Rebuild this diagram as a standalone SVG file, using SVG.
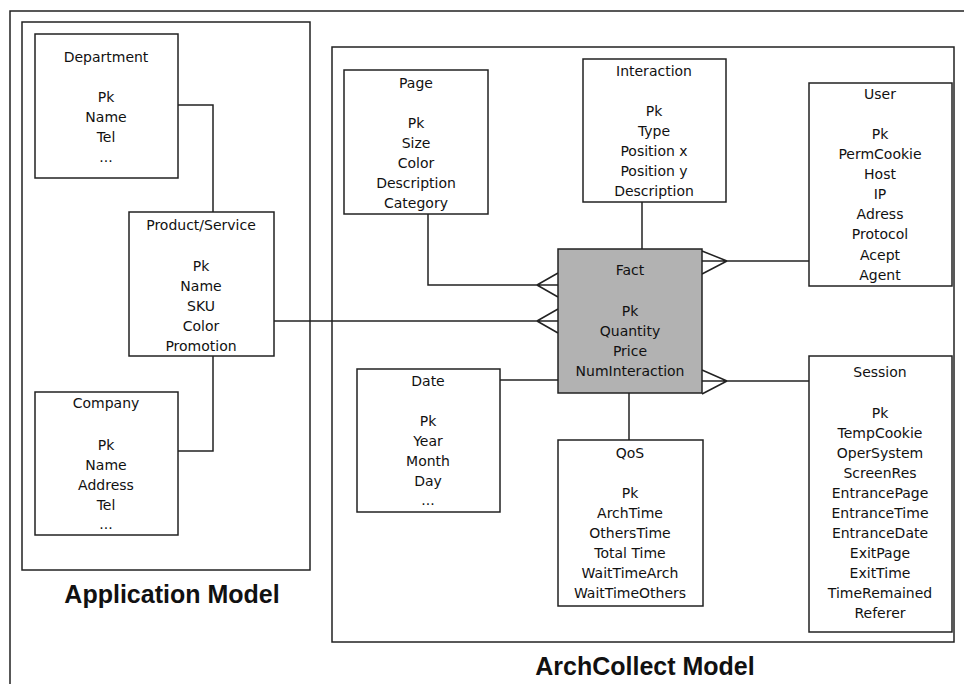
<svg xmlns="http://www.w3.org/2000/svg" width="964" height="684" viewBox="0 0 964 684">
<style>
.box{fill:#fff;stroke:#222;stroke-width:1.5}
.fact{fill:#b2b2b2;stroke:#222;stroke-width:1.5}
.frame{fill:none;stroke:#222;stroke-width:1.5}
.t{font-family:"DejaVu Sans",sans-serif;font-size:14px;fill:#111;text-anchor:middle}
.big{font-family:"Liberation Sans",Arial,sans-serif;font-size:25px;font-weight:bold;fill:#111;text-anchor:middle}
.c{fill:none;stroke:#222;stroke-width:1.5}
</style>
<rect width="964" height="684" fill="#fff"/>
<g id="outer-frame">
<path class="frame" d="M10,684 V11 H964"/>
</g>
<g id="application-model">
<rect class="frame" x="22" y="22" width="288" height="548"/>
<text class="big" x="172" y="603">Application Model</text>
</g>
<g id="archcollect-model">
<rect class="frame" x="332" y="47" width="622" height="595"/>
<text class="big" x="645" y="675">ArchCollect Model</text>
</g>
<g id="connectors">
<path class="c" d="M178,105 H213 V212"/>
<path class="c" d="M213,356 V451 H178"/>
<path class="c" d="M274,321 H537"/>
<path class="c" d="M428,214 V285 H537"/>
<path class="c" d="M537,285 L558,273 M537,285 L558,297 M537,285 H558"/>
<path class="c" d="M537,321 L558,309 M537,321 L558,333 M537,321 H558"/>
<path class="c" d="M642,202 V249"/>
<path class="c" d="M727,261 H809"/>
<path class="c" d="M727,261 L702,251 M727,261 L702,274 M727,261 H702"/>
<path class="c" d="M727,381 H809"/>
<path class="c" d="M727,381 L702,370 M727,381 L702,394 M727,381 H702"/>
<path class="c" d="M500,380 H558"/>
<path class="c" d="M629,393 V440"/>
</g>
<g id="department">
<rect class="box" x="35" y="34" width="143" height="144"/>
<text class="t" x="106" y="62">Department</text>
<text class="t" x="106" y="102">Pk</text>
<text class="t" x="106" y="122">Name</text>
<text class="t" x="106" y="142">Tel</text>
<text class="t" x="106" y="162">...</text>
</g>
<g id="product-service">
<rect class="box" x="129" y="212" width="145" height="144"/>
<text class="t" x="201" y="230">Product/Service</text>
<text class="t" x="201" y="271">Pk</text>
<text class="t" x="201" y="291">Name</text>
<text class="t" x="201" y="311">SKU</text>
<text class="t" x="201" y="331">Color</text>
<text class="t" x="201" y="351">Promotion</text>
</g>
<g id="company">
<rect class="box" x="35" y="392" width="143" height="143"/>
<text class="t" x="106" y="408">Company</text>
<text class="t" x="106" y="450">Pk</text>
<text class="t" x="106" y="470">Name</text>
<text class="t" x="106" y="490">Address</text>
<text class="t" x="106" y="510">Tel</text>
<text class="t" x="106" y="529">...</text>
</g>
<g id="page">
<rect class="box" x="344" y="70" width="144" height="144"/>
<text class="t" x="416" y="88">Page</text>
<text class="t" x="416" y="128">Pk</text>
<text class="t" x="416" y="148">Size</text>
<text class="t" x="416" y="168">Color</text>
<text class="t" x="416" y="188">Description</text>
<text class="t" x="416" y="208">Category</text>
</g>
<g id="interaction">
<rect class="box" x="583" y="59" width="143" height="143"/>
<text class="t" x="654" y="76">Interaction</text>
<text class="t" x="654" y="116">Pk</text>
<text class="t" x="654" y="136">Type</text>
<text class="t" x="654" y="156">Position x</text>
<text class="t" x="654" y="176">Position y</text>
<text class="t" x="654" y="196">Description</text>
</g>
<g id="user">
<rect class="box" x="809" y="83" width="143" height="203"/>
<text class="t" x="880" y="99">User</text>
<text class="t" x="880" y="139">Pk</text>
<text class="t" x="880" y="159">PermCookie</text>
<text class="t" x="880" y="179">Host</text>
<text class="t" x="880" y="199">IP</text>
<text class="t" x="880" y="219">Adress</text>
<text class="t" x="880" y="239">Protocol</text>
<text class="t" x="880" y="260">Acept</text>
<text class="t" x="880" y="280">Agent</text>
</g>
<g id="fact">
<rect class="fact" x="558" y="249" width="144" height="144"/>
<text class="t" x="630" y="275">Fact</text>
<text class="t" x="630" y="316">Pk</text>
<text class="t" x="630" y="336">Quantity</text>
<text class="t" x="630" y="356">Price</text>
<text class="t" x="630" y="376">NumInteraction</text>
</g>
<g id="date">
<rect class="box" x="357" y="369" width="143" height="143"/>
<text class="t" x="428" y="386">Date</text>
<text class="t" x="428" y="426">Pk</text>
<text class="t" x="428" y="446">Year</text>
<text class="t" x="428" y="466">Month</text>
<text class="t" x="428" y="486">Day</text>
<text class="t" x="428" y="505">...</text>
</g>
<g id="qos">
<rect class="box" x="558" y="440" width="145" height="166"/>
<text class="t" x="630" y="458">QoS</text>
<text class="t" x="630" y="498">Pk</text>
<text class="t" x="630" y="518">ArchTime</text>
<text class="t" x="630" y="538">OthersTime</text>
<text class="t" x="630" y="558">Total Time</text>
<text class="t" x="630" y="578">WaitTimeArch</text>
<text class="t" x="630" y="598">WaitTimeOthers</text>
</g>
<g id="session">
<rect class="box" x="809" y="356" width="143" height="276"/>
<text class="t" x="880" y="377">Session</text>
<text class="t" x="880" y="418">Pk</text>
<text class="t" x="880" y="438">TempCookie</text>
<text class="t" x="880" y="458">OperSystem</text>
<text class="t" x="880" y="478">ScreenRes</text>
<text class="t" x="880" y="498">EntrancePage</text>
<text class="t" x="880" y="518">EntranceTime</text>
<text class="t" x="880" y="538">EntranceDate</text>
<text class="t" x="880" y="558">ExitPage</text>
<text class="t" x="880" y="578">ExitTime</text>
<text class="t" x="880" y="598">TimeRemained</text>
<text class="t" x="880" y="618">Referer</text>
</g>
</svg>
